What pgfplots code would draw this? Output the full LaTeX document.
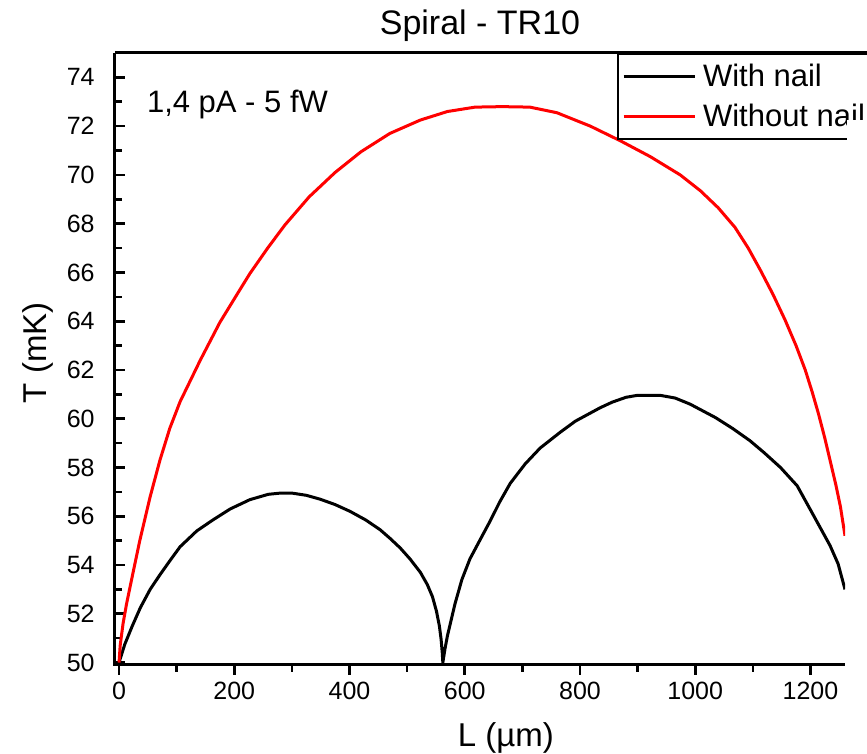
\documentclass[border=0pt]{standalone}
\usepackage{fontspec}
\setmainfont{Liberation Sans}
\usepackage{pgfplots}
\pgfplotsset{compat=1.18}
\begin{document}
\begin{tikzpicture}[x=1pt,y=1pt]
\useasboundingbox (0,0) rectangle (433.5,377);
\begin{axis}[
  at={(57.5pt,44.5pt)}, anchor=south west,
  scale only axis, width=365pt, height=306pt,
  xmin=-7, xmax=1260, ymin=49.9, ymax=75,
  axis line style={draw=none},
  clip mode=individual,
  xtick={0,200,...,1200}, minor xtick={100,300,...,1100},
  ytick={50,52,...,74}, minor ytick={51,53,...,73},
  xtick pos=left, ytick pos=left,
  xtick align=outside, ytick align=inside,
  major tick length=5pt, minor tick length=3.5pt,
  every tick/.style={black, line width=1.3pt},
  tick label style={font=\fontsize{12.5}{14}\selectfont},
  yticklabel style={inner sep=0pt, xshift=-10pt},
  /pgf/number format/assume math mode=true,
  /pgf/number format/1000 sep={},
  legend style={at={(axis description cs:0.6877,1)}, anchor=north west,
    draw=black, line width=1pt, font=\fontsize{15.5}{18}\selectfont,
    inner xsep=2pt, inner ysep=5.0pt, row sep=7.2pt,
    nodes={inner sep=0pt}, column sep=3.5pt, cells={anchor=west}},
  legend image code/.code={\draw[#1, line width=1.5pt] (0pt,0pt) -- (35.5pt,0pt);},
]
\addplot[black, line width=1.5pt] table {
0 50.0
10 50.75
23 51.5
37 52.25
54 53.0
71 53.6
89 54.2
106 54.75
135 55.4
163 55.85
193 56.3
227 56.68
259 56.9
280 56.95
300 56.95
325 56.86
349 56.7
375 56.48
401 56.2
428 55.85
453 55.45
470 55.1
488 54.7
505 54.25
523 53.7
535 53.2
544 52.7
551 52.1
556 51.5
559 50.95
561 50.4
562 50.0
564 50.3
566 50.6
570 51.1
575 51.6
583 52.4
595 53.4
609 54.25
627 55.05
644 55.8
661 56.6
679 57.35
705 58.15
731 58.8
766 59.45
792 59.9
835 60.45
856 60.68
880 60.88
900 60.96
939 60.96
965 60.85
991 60.6
1035 60.05
1065 59.6
1095 59.1
1120 58.6
1148 58.0
1177 57.25
1205 56.05
1234 54.8
1248 54.05
1260 53.0
};
\addlegendentry{With nail}
\addplot[red, line width=1.5pt] table {
0 50.0
2 50.7
7 51.6
13 52.4
20 53.2
28 54.1
36 55.0
45 55.9
54 56.8
71 58.3
88 59.6
106 60.7
141 62.4
175 63.95
210 65.3
227 65.95
258 67.0
288 67.95
330 69.1
375 70.1
420 70.95
470 71.7
523 72.25
570 72.6
618 72.78
665 72.8
713 72.78
760 72.55
818 72.0
870 71.4
922 70.75
974 70.0
1009 69.35
1040 68.65
1069 67.85
1092 67.0
1113 66.1
1135 65.1
1156 64.05
1175 63.0
1191 62.0
1203 61.1
1214 60.2
1225 59.2
1234 58.3
1244 57.3
1252 56.4
1260 55.2
};
\addlegendentry{Without nail}
\draw[line width=1.5pt] (axis description cs:0,1) -- (axis description cs:0,0) -- (axis description cs:1,0);
\draw[line width=1.5pt] (axis description cs:0,1) -- (axis description cs:1.1,1);
\node[anchor=base west, font=\fontsize{15.5}{18}\selectfont] at (axis description cs:0.0342,0.902) {1,4 pA - 5 fW};
\node[anchor=base, font=\fontsize{17}{20}\selectfont] at ([yshift=9pt]axis description cs:0.5,1) {Spiral - TR10};
\node[anchor=base, font=\fontsize{16.5}{20}\selectfont] at ([yshift=-41pt]axis description cs:0.5356,0) {L (µm)};
\node[anchor=base, rotate=90, font=\fontsize{16.5}{20}\selectfont] at ([xshift=-34pt]axis description cs:0,0.51) {T (mK)};
\end{axis}
\fill[white] (423.3,0) rectangle (440,317);
\end{tikzpicture}
\end{document}
